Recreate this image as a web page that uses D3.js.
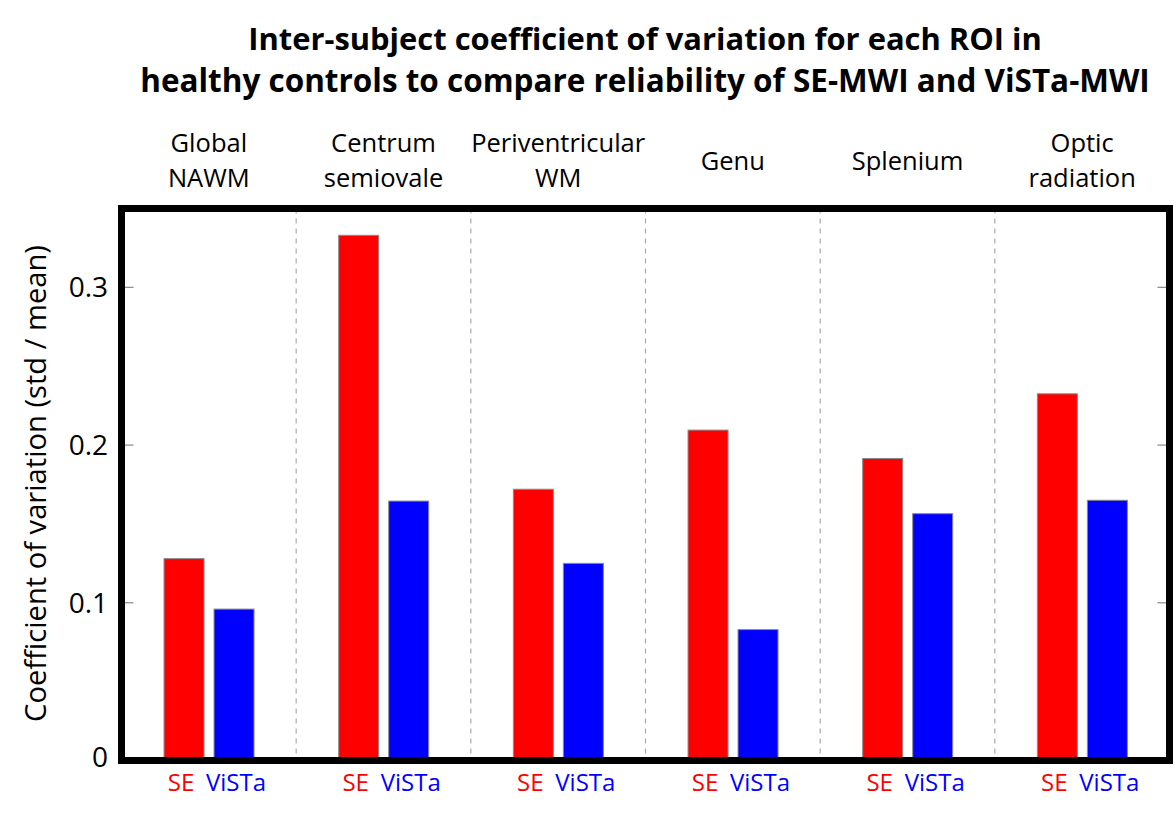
<!DOCTYPE html>
<html><head><meta charset="utf-8">
<script src="https://cdn.jsdelivr.net/npm/d3@7"></script>
<style>body{margin:0;background:#fff}svg{display:block}text{font-family:"Open Sans",sans-serif}</style>
</head><body><svg id="c" width="1174" height="818"></svg>
<script>
const categories = [["Global","NAWM"],["Centrum","semiovale"],["Periventricular","WM"],["Genu"],["Splenium"],["Optic","radiation"]];
const series = ["SE","ViSTa"];
const seValues = [0.128, 0.333, 0.172, 0.2095, 0.1915, 0.2325];
const vistaValues = [0.096, 0.1645, 0.125, 0.083, 0.1565, 0.165];
const yTicks = [0, 0.1, 0.2, 0.3];
const titleLines = ["Inter-subject coefficient of variation for each ROI in","healthy controls to compare reliability of SE-MWI and ViSTa-MWI"];
const yLabel = "Coefficient of variation (std / mean)";
const colors = {SE:"#ff0000", ViSTa:"#0000ff"};

const svg = d3.select("#c");
const L = 121.5, R = 1169.5, T = 208.5, B = 760.5;
const x = d3.scaleBand().domain(d3.range(categories.length)).range([L, R]).padding(0);
const gw = x.bandwidth();
const xs = d3.scaleBand().domain(series).range([gw*0.2435, gw*0.7588]).paddingInner(0.2).paddingOuter(0);
const y = d3.scaleLinear().domain([0, 0.35]).range([B, T]);

function fit(sel, target){ const w = sel.node().getComputedTextLength(); const fs = parseFloat(sel.attr("font-size")); sel.attr("font-size", fs*target/w); }

// title
const tw = [794, 1010];
titleLines.forEach((t,i)=>{
  const s = svg.append("text").attr("x",645).attr("y",[50,92][i]).attr("text-anchor","middle")
    .attr("font-weight","bold").attr("font-size",30).attr("fill","#000").text(t);
  fit(s, tw[i]);
});

// dividers
svg.append("g").selectAll("line").data(d3.range(1,categories.length)).join("line")
  .attr("x1",d=>x(d)).attr("x2",d=>x(d)).attr("y1",T).attr("y2",B)
  .attr("stroke","#aaaaaa").attr("stroke-width",1.2).attr("stroke-dasharray","5,5");

// bars
const data = [];
categories.forEach((c,i)=>{ data.push({i, s:"SE", v:seValues[i]}); data.push({i, s:"ViSTa", v:vistaValues[i]}); });
svg.append("g").selectAll("rect").data(data).join("rect")
  .attr("x",d=>x(d.i)+xs(d.s)).attr("width",xs.bandwidth())
  .attr("y",d=>y(d.v)).attr("height",d=>y(0)-y(d.v))
  .attr("fill",d=>colors[d.s]).attr("stroke","#8a8a8a").attr("stroke-width",1);

// y axis ticks (inside) left and right
const ticks = yTicks.filter(t=>t>0);
svg.append("g").selectAll("line").data(ticks).join("line")
  .attr("x1",L+3).attr("x2",L+12).attr("y1",d=>y(d)).attr("y2",d=>y(d)).attr("stroke","#888").attr("stroke-width",1.2);
svg.append("g").selectAll("line").data(ticks).join("line")
  .attr("x1",R-3).attr("x2",R-12).attr("y1",d=>y(d)).attr("y2",d=>y(d)).attr("stroke","#888").attr("stroke-width",1.2);
svg.append("g").selectAll("text").data(yTicks).join("text")
  .attr("x",108).attr("y",d=>y(d)-(d===0?3:0)).attr("dy","0.35em").attr("text-anchor","end")
  .attr("font-size",28).attr("fill","#000").text(d=>d===0?"0":d3.format(".1f")(d));

// y label
const yl = svg.append("text").attr("transform",`translate(46,${(245+722)/2}) rotate(-90)`).attr("text-anchor","middle")
  .attr("font-size",26).attr("fill","#000").text(yLabel);
fit(yl, 477);

// frame
svg.append("rect").attr("x",L).attr("y",T).attr("width",R-L).attr("height",B-T)
  .attr("fill","none").attr("stroke","#000").attr("stroke-width",7);

// category labels
categories.forEach((lines,i)=>{
  const cx = x(i)+gw/2;
  const base = lines.length===2 ? [152,187] : [170];
  lines.forEach((t,j)=>svg.append("text").attr("x",cx).attr("y",base[j]).attr("text-anchor","middle")
    .attr("font-size",25.5).attr("fill","#000").text(t));
});

// series labels under bars
svg.append("g").selectAll("text").data(data).join("text")
  .attr("x",d=>x(d.i)+xs(d.s)+xs.bandwidth()/2+(d.s==="SE"?-3:2)).attr("y",791).attr("text-anchor","middle")
  .attr("font-size",24).attr("fill",d=>colors[d.s]).text(d=>d.s);
</script></body></html>
